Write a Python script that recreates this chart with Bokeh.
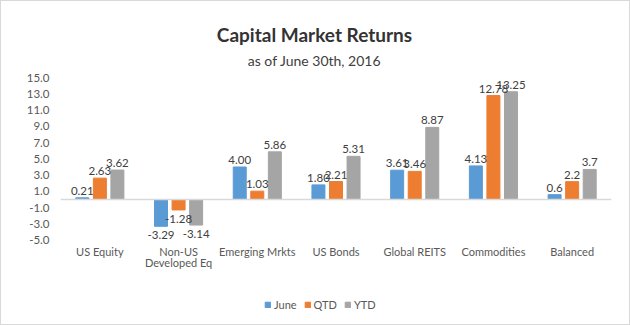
from bokeh.plotting import figure
from bokeh.models import (FactorRange, Range1d, FixedTicker, NumeralTickFormatter, Span,
                          Legend, LegendItem, Label, ColumnDataSource, LabelSet)
from bokeh.transform import dodge
from bokeh.core.properties import value
from bokeh.embed import file_html
from bokeh.resources import INLINE

title_text = "Capital Market Returns"
subtitle_text = "as of June 30th, 2016"
categories = ["US Equity", "Non-US Developed Eq", "Emerging Mrkts", "US Bonds",
              "Global REITS", "Commodities", "Balanced"]
cat_line1 = ["US Equity", "Non-US", "Emerging Mrkts", "US Bonds",
             "Global REITS", "Commodities", "Balanced"]
cat_line2 = ["", "Developed Eq", "", "", "", "", ""]
june = [0.21, -3.29, 4.00, 1.80, 3.61, 4.13, 0.6]
qtd = [2.63, -1.28, 1.03, 2.21, 3.46, 12.78, 2.2]
ytd = [3.62, -3.14, 5.86, 5.31, 8.87, 13.25, 3.7]
june_labels = ["0.21", "-3.29", "4.00", "1.80", "3.61", "4.13", "0.6"]
qtd_labels = ["2.63", "-1.28", "1.03", "2.21", "3.46", "12.78", "2.2"]
ytd_labels = ["3.62", "-3.14", "5.86", "5.31", "8.87", "13.25", "3.7"]
series_names = ["June", "QTD", "YTD"]
y_ticks = [-5, -3, -1, 1, 3, 5, 7, 9, 11, 13, 15]

FONT = "Lato"
TXT = "#595959"
colors = ["#5B9BD5", "#ED7D31", "#A5A5A5"]
offsets = [-0.223, 0.0, 0.223]

p = figure(width=630, height=325, x_range=FactorRange(factors=categories),
           y_range=Range1d(-14.75, 23.73), output_backend="svg", toolbar_location=None,
           title=None, min_border_left=59, min_border_right=20, min_border_top=5,
           min_border_bottom=7, background_fill_color="white", border_fill_color="white",
           styles={"border": "1px solid #D9D9D9", "box-sizing": "border-box"})

p.outline_line_color = None
p.xgrid.visible = False
p.ygrid.visible = False
p.xaxis.visible = False

p.yaxis.ticker = FixedTicker(ticks=y_ticks)
p.yaxis.formatter = NumeralTickFormatter(format="0.0")
p.yaxis.axis_line_color = None
p.yaxis.major_tick_line_color = None
p.yaxis.minor_tick_line_color = None
p.yaxis.major_tick_out = 0
p.yaxis.major_tick_in = 0
p.yaxis.major_label_standoff = 11
p.yaxis.major_label_text_font = FONT
p.yaxis.major_label_text_font_size = "11.5px"
p.yaxis.major_label_text_color = TXT

p.add_layout(Span(location=0, dimension="width", line_color="#D9D9D9", line_width=1.5))

# titles
p.add_layout(Label(x=254, y=285, x_units="screen", y_units="screen", text=title_text,
                   text_align="center", text_baseline="middle", text_font=FONT,
                   text_font_size="19px", text_font_style="bold", text_color="#333333"))
p.add_layout(Label(x=254, y=259, x_units="screen", y_units="screen", text=subtitle_text,
                   text_align="center", text_baseline="middle", text_font=FONT,
                   text_font_size="14px", text_color="#404040"))

# category labels under the plot area (two lines for the long one)
cat_src = ColumnDataSource(dict(cat=categories, l1=cat_line1, l2=cat_line2))
for field, sy in (("l1", 68), ("l2", 57)):
    p.add_layout(LabelSet(x="cat", y=sy, y_units="screen", text=field, source=cat_src,
                          text_align="center", text_baseline="middle",
                          text_font=value(FONT), text_font_size=value("11px"),
                          text_color=TXT))

all_vals = [june, qtd, ytd]
all_labels = [june_labels, qtd_labels, ytd_labels]
renderers = []
for name, vals, labs, col, off in zip(series_names, all_vals, all_labels, colors, offsets):
    src = ColumnDataSource(dict(cat=categories, val=vals, lab=labs))
    r = p.vbar(x=dodge("cat", off, range=p.x_range), top="val", bottom=0, width=0.165,
               source=src, fill_color=col, line_color=col)
    renderers.append(r)
    pos = [i for i, v in enumerate(vals) if v >= 0]
    neg = [i for i, v in enumerate(vals) if v < 0]
    for idx, base, yoff in ((pos, "bottom", 3), (neg, "top", -5)):
        if not idx:
            continue
        s = ColumnDataSource(dict(cat=[categories[i] for i in idx], val=[vals[i] for i in idx],
                                  lab=[labs[i] for i in idx]))
        p.add_layout(LabelSet(x=dodge("cat", off, range=p.x_range), y="val", text="lab", source=s,
                              text_align="center", text_baseline=base, y_offset=yoff,
                              text_font=value(FONT), text_font_size=value("11.5px"),
                              text_color="#404040"))

legend = Legend(items=[LegendItem(label=n, renderers=[r]) for n, r in zip(series_names, renderers)],
                orientation="horizontal", location=(204, 8), glyph_width=7, glyph_height=7,
                label_text_font=FONT, label_text_font_size="11px", label_text_color=TXT,
                spacing=7, padding=0, margin=0, label_standoff=3, border_line_color=None,
                background_fill_alpha=0)
p.add_layout(legend)

open("out.html", "w").write(file_html(p, INLINE))
